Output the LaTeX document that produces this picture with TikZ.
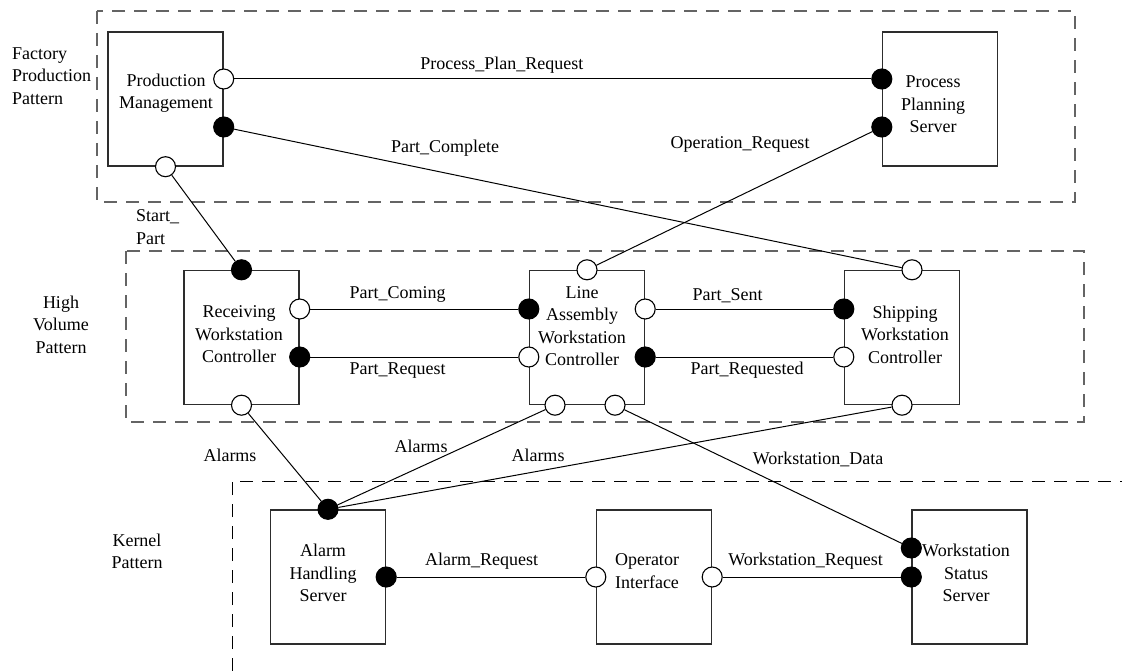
\documentclass[tikz,border=0pt]{standalone}
\usepackage{fontspec}
\setmainfont{Liberation Serif}
\usetikzlibrary{
  positioning
}
\definecolor{FrameGray}{RGB}{100,100,100}
\definecolor{BoxGray}{RGB}{45,45,45}
\newcommand{\unitfont}{\fontsize{18}{22.5}\selectfont}
\tikzset{
  unitnode/.style={draw=BoxGray,line width=1.4pt,minimum width=115pt,minimum height=134pt,inner sep=0pt},
  unittext/.style={align=center,inner sep=0pt,font=\unitfont},
  portopen/.style={circle,draw=black,fill=white,line width=1.1pt,minimum size=20pt,inner sep=0pt},
  portfull/.style={portopen,fill=black},
  link/.style={draw=black,line width=1pt},
  frame/.style={draw=FrameGray,line width=1.2pt,dash pattern=on 13pt off 9pt},
  flowlabel/.style={inner sep=0pt,font=\unitfont},
  patternlabel/.style={inner sep=0pt,font=\unitfont}
}

\begin{document}
\begin{tikzpicture}[x=1pt,y=-1pt]
\useasboundingbox (0,0) rectangle (1122,671);
% pattern frames
\draw[frame] (97,11) rectangle (1075,202);
\draw[frame] (126,251) rectangle (1084,422);
\draw[frame,draw=black,line width=0.9pt] (232,671) -- (232,481) -- (1122,481);
\node[patternlabel,align=left,anchor=west] (fpp) at (12,76) {Factory\\Production\\Pattern};
\node[patternlabel,align=center] (hvp) at (61,324.5) {High\\Volume\\Pattern};
\node[patternlabel,align=center] (kp) at (137,551.5) {Kernel\\Pattern};

% units
\node[unitnode] (pm) at (165.5,99) {};
\node[unitnode] (pp) at (940,99) {};
\node[unitnode] (rw) at (241.5,337.5) {};
\node[unitnode] (la) at (587,337.5) {};
\node[unitnode] (sw) at (902,337.5) {};
\node[unitnode] (ah) at (328,577) {};
\node[unitnode] (oi) at (654,577) {};
\node[unitnode] (ws) at (969.5,577) {};

\node[unittext] (pmt) at (166,93) {Production\\Management};
\node[unittext] (ppt) at (933,104.5) {Process\\Planning\\Server};
\node[unittext] (rwt) at (239,334.5) {Receiving\\Workstation\\Controller};
\node[unittext] (lat) at (582,326) {Line\\Assembly\\Workstation\\Controller};
\node[unittext] (swt) at (905,334.5) {Shipping\\Workstation\\Controller};
\node[unittext] (aht) at (323,573) {Alarm\\Handling\\Server};
\node[unittext] (oit) at (647,571) {Operator\\Interface};
\node[unittext] (wst) at (966,573) {Workstation\\Status\\Server};

% ports
\node[portopen] (pm1) at ([yshift=20pt]pm.east) {};
\node[portfull] (pm2) at ([yshift=-28pt]pm.east) {};
\node[portopen] (pm3) at (pm.south) {};
\node[portfull] (pp1) at ([yshift=20pt]pp.west) {};
\node[portfull] (pp2) at ([yshift=-28pt]pp.west) {};
\node[portfull] (rw1) at (rw.north) {};
\node[portopen] (rw2) at ([yshift=28.5pt]rw.east) {};
\node[portfull] (rw3) at ([yshift=-19.5pt]rw.east) {};
\node[portopen] (rw4) at (rw.south) {};
\node[portopen] (la1) at (la.north) {};
\node[portfull] (la2) at ([yshift=28.5pt]la.west) {};
\node[portopen] (la3) at ([yshift=-19.5pt]la.west) {};
\node[portopen] (la4) at ([yshift=28.5pt]la.east) {};
\node[portfull] (la5) at ([yshift=-19.5pt]la.east) {};
\node[portopen] (la6) at ([xshift=-32pt]la.south) {};
\node[portopen] (la7) at ([xshift=28pt]la.south) {};
\node[portopen] (sw1) at ([xshift=10pt]sw.north) {};
\node[portfull] (sw2) at ([yshift=28.5pt]sw.west) {};
\node[portopen] (sw3) at ([yshift=-19.5pt]sw.west) {};
\node[portopen] (sw4) at (sw.south) {};
\node[portfull] (ah1) at (ah.north) {};
\node[portfull] (ah2) at (ah.east) {};
\node[portopen] (oi1) at (oi.west) {};
\node[portopen] (oi2) at (oi.east) {};
\node[portfull] (ws1) at ([yshift=29pt]ws.west) {};
\node[portfull] (ws2) at (ws.west) {};

% links
\draw[link] (pm1) -- node[flowlabel,pos=0.42,above=5pt] (ppr) {Process\_Plan\_Request} (pp1);
\draw[link] (pm2) -- (sw1);
\node[flowlabel] (pc) at (445,148) {Part\_Complete};
\draw[link] (pp2) -- (la1);
\node[flowlabel] (opr) at (740,144) {Operation\_Request};
\draw[link] (pm3) -- (rw1);
\node[flowlabel,align=left,anchor=west] (sp) at (136,227) {Start\_\\Part};
\draw[link] (rw2) -- node[flowlabel,pos=0.42,above=6pt] (pcm) {Part\_Coming} (la2);
\draw[link] (rw3) -- node[flowlabel,pos=0.42,below=5pt] (prq) {Part\_Request} (la3);
\draw[link] (la4) -- node[flowlabel,pos=0.405,above=6pt] (pst) {Part\_Sent} (sw2);
\draw[link] (la5) -- node[flowlabel,pos=0.515,below=5pt] (prd) {Part\_Requested} (sw3);
\draw[link] (rw4) -- (ah1);
\node[flowlabel] (al1) at (230,455) {Alarms};
\draw[link] (la6) -- (ah1);
\node[flowlabel] (al2) at (421,446) {Alarms};
\draw[link] (sw4) -- (ah1);
\node[flowlabel] (al3) at (538,455) {Alarms};
\draw[link] (la7) -- (ws1);
\node[flowlabel] (wsd) at (818,459) {Workstation\_Data};
\draw[link] (ah2) -- node[flowlabel,pos=0.45,above=7pt] (arq) {Alarm\_Request} (oi1);
\draw[link] (oi2) -- node[flowlabel,pos=0.465,above=7pt] (wrq) {Workstation\_Request} (ws2);
\end{tikzpicture}
\end{document}
